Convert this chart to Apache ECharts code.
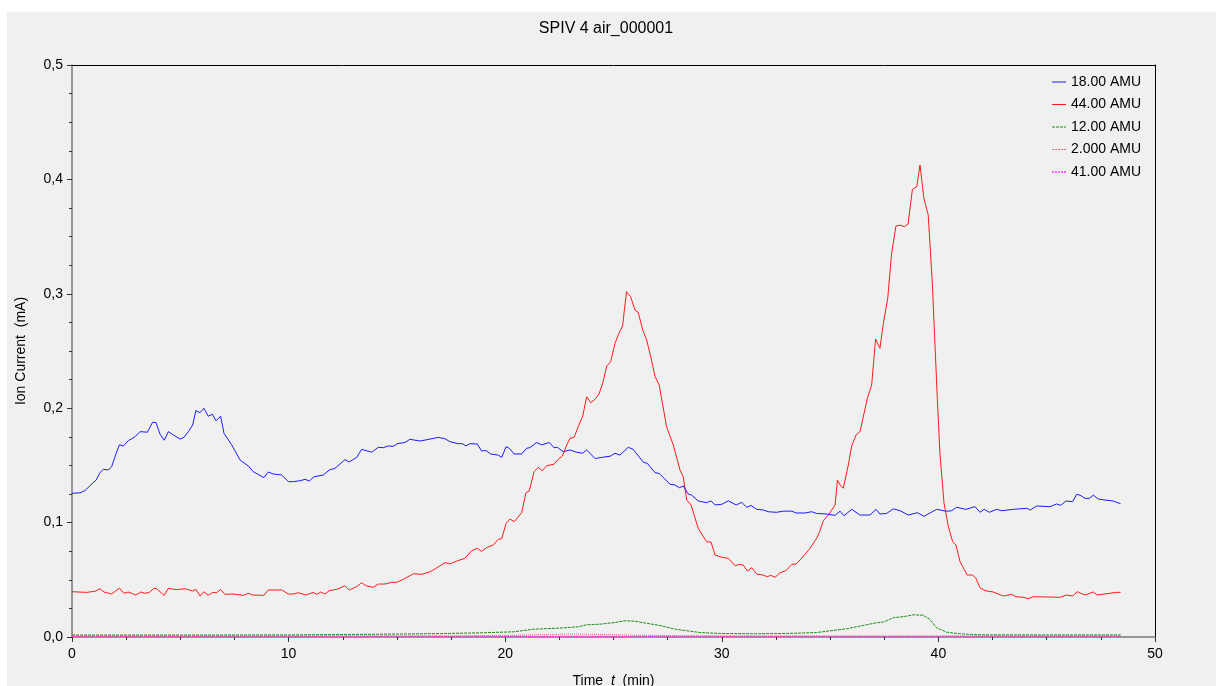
<!DOCTYPE html>
<html>
<head>
<meta charset="utf-8">
<script src="https://cdn.jsdelivr.net/npm/echarts@6/dist/echarts.min.js"></script>
<style>
html,body{margin:0;padding:0;background:#ffffff;}
#chart{width:1221px;height:686px;}
</style>
</head>
<body>
<div id="chart"></div>
<script>
// ---- data (time in min, ion current in mA) ----
const seriesNames = ['18.00 AMU', '44.00 AMU', '12.00 AMU', '2.000 AMU', '41.00 AMU'];
const xTicks = [0, 10, 20, 30, 40, 50];
const yTicks = [0.0, 0.1, 0.2, 0.3, 0.4, 0.5];

const t18 = [0,0.37,0.6,0.98,1.11,1.29,1.45,1.68,1.83,2.03,2.19,2.37,2.6,2.91,3.14,3.48,3.72,3.88,4.06,4.26,4.45,4.68,4.99,5.17,5.37,5.57,5.72,5.91,6.09,6.29,6.48,6.65,6.86,7.02,7.37,7.76,8.14,8.37,8.86,9.06,9.29,9.68,9.99,10.22,10.53,10.76,10.96,11.17,11.6,11.88,12.14,12.6,12.8,13.14,13.37,13.84,14.14,14.37,14.6,14.83,15.02,15.37,15.6,16.07,16.53,16.91,17.22,17.45,17.83,18.02,18.19,18.37,18.71,18.91,19.11,19.33,19.68,19.84,20.04,20.19,20.41,20.76,20.99,21.14,21.45,21.68,22.04,22.25,22.41,22.68,22.99,23.3,23.58,23.76,24.15,24.45,24.84,25.07,25.3,25.68,25.91,26.38,26.56,26.92,27.11,27.61,27.84,28.04,28.22,28.45,28.61,28.91,29.3,29.5,29.69,30,30.3,30.66,30.92,31.15,31.35,31.61,31.92,32.15,32.53,32.84,33.23,33.43,33.84,34.15,34.38,34.84,35.23,35.46,35.64,36,36.38,36.84,37.12,37.3,37.61,37.92,38.23,38.61,39.03,39.33,39.92,40.38,40.61,40.84,41.27,41.69,41.92,42.11,42.35,42.69,42.92,43.46,44.08,44.23,44.54,45.15,45.46,45.65,45.89,46.2,46.38,46.54,46.77,46.97,47.15,47.38,47.69,48.07,48.41];
const v18 = [0.1256,0.126,0.128,0.135,0.137,0.1436,0.1466,0.146,0.1489,0.160,0.168,0.167,0.1716,0.175,0.1795,0.179,0.1877,0.1874,0.1774,0.172,0.1795,0.1766,0.173,0.1745,0.1795,0.1853,0.198,0.196,0.200,0.193,0.1947,0.189,0.193,0.178,0.168,0.1547,0.1495,0.1445,0.1393,0.1442,0.1425,0.1416,0.1358,0.1358,0.1366,0.1378,0.1364,0.140,0.1416,0.146,0.1474,0.155,0.153,0.157,0.164,0.1615,0.1658,0.1655,0.167,0.1667,0.169,0.170,0.1728,0.1713,0.173,0.1745,0.1733,0.1707,0.169,0.169,0.167,0.169,0.1687,0.1626,0.163,0.160,0.159,0.157,0.1664,0.165,0.160,0.160,0.165,0.1655,0.170,0.168,0.170,0.1655,0.1658,0.162,0.1635,0.1615,0.1606,0.1635,0.156,0.157,0.158,0.1606,0.159,0.1658,0.164,0.1527,0.1518,0.1436,0.143,0.1335,0.1329,0.1305,0.132,0.125,0.124,0.1189,0.1174,0.119,0.1154,0.116,0.119,0.1154,0.1177,0.1134,0.115,0.1116,0.111,0.1095,0.109,0.110,0.110,0.1084,0.1084,0.1095,0.108,0.1075,0.1063,0.110,0.106,0.1116,0.1066,0.1066,0.1116,0.1075,0.108,0.112,0.1104,0.1066,0.1087,0.1055,0.1116,0.1099,0.1104,0.1134,0.1116,0.114,0.109,0.1116,0.109,0.1116,0.1104,0.1116,0.1125,0.111,0.1145,0.1139,0.1163,0.1151,0.1189,0.1183,0.1247,0.124,0.1212,0.1212,0.124,0.1206,0.1197,0.1189,0.1165];

const t44 = [0,0.68,1.06,1.29,1.48,1.83,2.19,2.4,2.6,2.95,3.17,3.37,3.57,3.79,3.91,4.25,4.45,4.83,5.22,5.57,5.72,5.91,6.09,6.29,6.49,6.68,6.86,7.06,7.45,7.91,8.14,8.34,8.86,9.06,9.68,9.99,10.22,10.45,10.8,11.14,11.32,11.48,11.68,11.88,12.22,12.6,12.8,13.14,13.37,13.57,13.91,14.14,14.45,14.76,14.99,15.3,15.76,16.14,16.53,16.8,17.22,17.45,17.76,18.14,18.45,18.71,18.91,19.17,19.45,19.68,19.84,20.04,20.22,20.42,20.76,20.96,21.11,21.33,21.53,21.71,21.92,22.25,22.45,22.64,22.84,22.99,23.18,23.37,23.58,23.76,23.95,24.15,24.33,24.5,24.69,24.87,25.07,25.25,25.42,25.6,25.79,25.99,26.14,26.35,26.53,26.72,26.92,27.11,27.45,27.76,28.07,28.22,28.38,28.58,28.91,29.3,29.5,29.69,30,30.3,30.61,30.81,30.99,31.18,31.38,31.61,31.89,32.1,32.26,32.46,32.69,32.96,33.23,33.43,33.69,34.07,34.38,34.5,34.69,34.92,35.23,35.34,35.46,35.61,35.84,36,36.2,36.38,36.5,36.72,36.92,37.1,37.3,37.46,37.66,37.84,38.04,38.23,38.43,38.6,38.8,39,39.15,39.33,39.53,39.72,39.95,40.07,40.26,40.46,40.66,40.81,41,41.33,41.58,41.73,41.92,42.15,42.54,43,43.38,43.58,43.92,44.15,44.38,45,45.61,45.92,46.2,46.41,46.77,47.15,47.34,47.92,48.22,48.41];
const v44 = [0.0396,0.039,0.040,0.0422,0.0393,0.0376,0.0428,0.0382,0.0393,0.0367,0.0393,0.0382,0.039,0.0426,0.0422,0.0364,0.0426,0.0414,0.0422,0.0402,0.0417,0.0358,0.0396,0.0364,0.039,0.0387,0.0417,0.0373,0.0376,0.0364,0.0382,0.0367,0.0364,0.0411,0.0411,0.0376,0.0376,0.0387,0.0367,0.039,0.0373,0.0393,0.0376,0.0405,0.0417,0.0448,0.0411,0.044,0.0475,0.0448,0.0434,0.0463,0.0463,0.0478,0.0478,0.0504,0.0553,0.0548,0.057,0.060,0.065,0.0638,0.0664,0.0688,0.0754,0.0775,0.0749,0.0784,0.0804,0.0854,0.0859,0.0994,0.1031,0.1008,0.1087,0.1261,0.1276,0.1445,0.1483,0.1454,0.1497,0.151,0.1553,0.1582,0.1678,0.1737,0.1745,0.1838,0.193,0.210,0.2048,0.2078,0.2124,0.2218,0.2369,0.2407,0.2567,0.2655,0.2719,0.3019,0.2975,0.2858,0.2838,0.2684,0.2596,0.245,0.2275,0.2203,0.1838,0.1678,0.146,0.140,0.1198,0.1154,0.095,0.0833,0.083,0.0717,0.0697,0.0688,0.0623,0.0635,0.0629,0.0577,0.0606,0.055,0.0542,0.0527,0.0539,0.0522,0.0562,0.058,0.0635,0.0638,0.0688,0.0775,0.0863,0.0912,0.1017,0.1066,0.1154,0.1372,0.1329,0.130,0.1503,0.1672,0.1766,0.1795,0.1897,0.2086,0.2203,0.2605,0.2523,0.2742,0.296,0.3354,0.3593,0.360,0.3587,0.361,0.3913,0.3936,0.4126,0.3835,0.3689,0.309,0.2086,0.1606,0.1169,0.0964,0.0833,0.0804,0.0658,0.0542,0.0542,0.0513,0.0431,0.0405,0.0393,0.0358,0.0373,0.0352,0.0347,0.0335,0.0352,0.035,0.0347,0.0367,0.0358,0.0396,0.0367,0.0393,0.0367,0.0382,0.039,0.039];

const t12 = [0,5,10,14,17,19,19.76,20.38,21.3,21.76,22.45,23.37,23.76,24.38,25.07,25.53,25.99,26.53,27.15,27.92,29,29.92,31.45,32.99,34.38,35.76,36.68,37.14,37.45,37.92,38.53,38.84,39.3,39.61,39.92,40.38,41,41.92,42.84,45,48.41];
const v12 = [0.0017,0.0017,0.0018,0.0024,0.003,0.0037,0.0042,0.0045,0.0068,0.0072,0.0077,0.0089,0.0107,0.0112,0.0127,0.0142,0.0138,0.012,0.010,0.0066,0.0039,0.0031,0.0028,0.0031,0.0039,0.0072,0.0107,0.0124,0.013,0.0168,0.0182,0.0194,0.019,0.0153,0.008,0.0042,0.0028,0.0019,0.0019,0.0018,0.0018];

const t2 = [0,10,18,20,22,23,24,25,26,28,30,35,40,48.41];
const v2 = [0.0008,0.0008,0.001,0.0014,0.0022,0.0026,0.0024,0.002,0.0016,0.0011,0.0009,0.0008,0.0008,0.0008];

const t41 = [0,10,20,30,40,48.41];
const v41 = [0.0004,0.0004,0.0004,0.0004,0.0004,0.0004];

// ---- chart ----
function pairs(t, v) { return t.map((x, i) => [x, v[i]]); }
const FONT = '"Liberation Sans", Arial, sans-serif';

const chart = echarts.init(document.getElementById('chart'), null, {renderer: 'canvas'});

const lineStyles = [
  {color: '#1a1aff', width: 1, type: 'solid'},
  {color: '#ff1a1a', width: 1, type: 'solid'},
  {color: '#1a8a1a', width: 1, type: [3, 1]},
  {color: '#d07070', width: 1, type: [1, 1]},
  {color: '#ff33ff', width: 1.5, type: [2, 1]}
];
// legend line glyphs (14 x 1 boxes)
const legendIcons = [
  'path://M0,0H14V1H0Z',
  'path://M0,0L14,0L14,1L0,1Z',
  'path://M0,0H3V1H0ZM4,0H7V1H4ZM8,0H11V1H8ZM12,0H14V1H12Z',
  'path://M0,0L2,0L2,1L0,1ZM3,0L5,0L5,1L3,1ZM6,0L8,0L8,1L6,1ZM9,0L11,0L11,1L9,1ZM12,0L14,0L14,1L12,1Z',
  'path://M0,0H2V1.5H0ZM3,0H5V1.5H3ZM6,0H8V1.5H6ZM9,0H11V1.5H9ZM12,0H14V1.5H12Z'
];
const dataSets = [pairs(t18, v18), pairs(t44, v44), pairs(t12, v12), pairs(t2, v2), pairs(t41, v41)];

const series = seriesNames.map((n, i) => ({
  name: n,
  type: 'line',
  xAxisIndex: 0,
  yAxisIndex: 0,
  data: dataSets[i],
  symbol: 'none',
  showSymbol: false,
  color: lineStyles[i].color,
  lineStyle: lineStyles[i],
  itemStyle: {color: lineStyles[i].color},
  z: 10 - i,
  animation: false
})).reverse();

chart.setOption({
  animation: false,
  color: lineStyles.map(s => s.color),
  backgroundColor: '#ffffff',
  textStyle: {fontFamily: FONT},
  graphic: [{
    type: 'rect', z: -100, silent: true,
    shape: {x: 7, y: 12, width: 1209, height: 674},
    style: {fill: '#f0f0f0'}
  }],
  title: {
    text: 'SPIV 4 air_000001',
    left: 606, top: 21, padding: 0,
    textAlign: 'center',
    textStyle: {fontFamily: FONT, fontSize: 16, fontWeight: 'normal', color: '#000'}
  },
  legend: {
    orient: 'vertical',
    left: 1052, top: 75, padding: 0,
    itemWidth: 14, itemHeight: 14, itemGap: 8.5,
    symbolKeepAspect: true,
    data: seriesNames.map((n, i) => ({name: n, icon: legendIcons[i],
      itemStyle: {color: lineStyles[i].color, borderWidth: 0, opacity: 1}})),
    itemStyle: {borderWidth: 0},
    textStyle: {fontFamily: FONT, fontSize: 14, color: '#000'},
    selectedMode: false
  },
  grid: {left: 72, right: 66, top: 65, bottom: 49, containLabel: false, outerBoundsMode: 'none'},
  xAxis: [{
    type: 'value', min: 0, max: 50, interval: 10, position: 'bottom',
    name: 'Time  {i|t}  (min)', nameLocation: 'middle', nameGap: 37,
    nameTextStyle: {fontFamily: FONT, fontSize: 14, color: '#000', rich: {i: {fontStyle: 'italic', fontFamily: FONT, fontSize: 14, color: '#000'}}},
    axisLine: {show: true, onZero: false, lineStyle: {color: '#7a7a7a', width: 1.5}},
    axisTick: {show: true, inside: false, length: 5, lineStyle: {color: '#333'}},
    minorTick: {show: true, splitNumber: 4, length: 3, lineStyle: {color: '#333'}},
    axisLabel: {fontFamily: FONT, fontSize: 14, color: '#000', margin: 10},
    splitLine: {show: false}
  }, {
    type: 'value', min: 0, max: 50, position: 'top',
    axisLine: {show: true, onZero: false, lineStyle: {color: '#000', width: 1}},
    axisTick: {show: false}, axisLabel: {show: false}, splitLine: {show: false}
  }],
  yAxis: [{
    type: 'value', min: 0, max: 0.5, interval: 0.1, position: 'left',
    name: 'Ion Current  (mA)', nameLocation: 'middle', nameGap: 44, nameRotate: 90,
    nameTextStyle: {fontFamily: FONT, fontSize: 14, color: '#000'},
    axisLine: {show: true, onZero: false, lineStyle: {color: '#7a7a7a', width: 1.5}},
    axisTick: {show: true, inside: false, length: 5, lineStyle: {color: '#333'}},
    minorTick: {show: true, splitNumber: 4, length: 3, lineStyle: {color: '#333'}},
    axisLabel: {fontFamily: FONT, fontSize: 14, color: '#000', margin: 9,
      formatter: v => v.toFixed(1).replace('.', ',')},
    splitLine: {show: false}
  }, {
    type: 'value', min: 0, max: 0.5, position: 'right',
    axisLine: {show: true, onZero: false, lineStyle: {color: '#000', width: 1}},
    axisTick: {show: false}, axisLabel: {show: false}, splitLine: {show: false}
  }],
  series: series
});
</script>
</body>
</html>
